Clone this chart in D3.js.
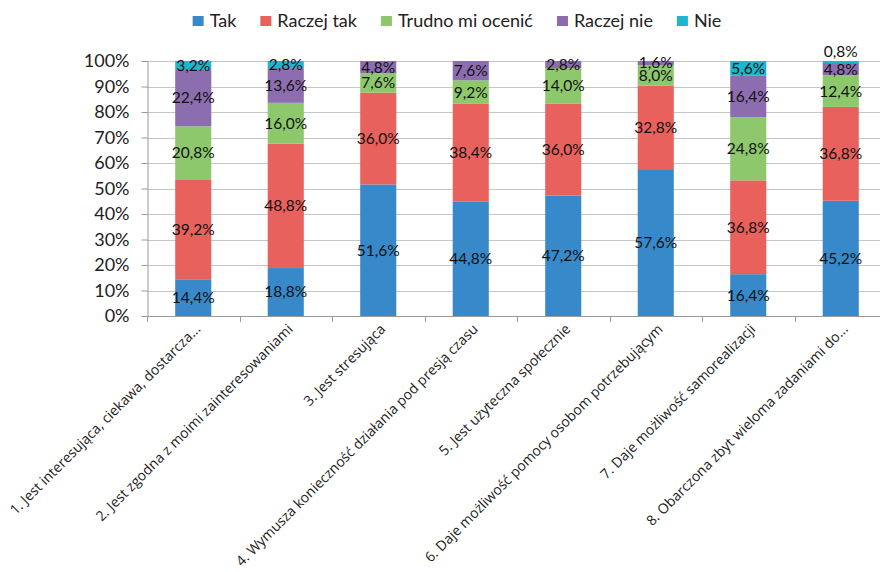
<!DOCTYPE html>
<html>
<head>
<meta charset="utf-8">
<script src="https://cdn.jsdelivr.net/npm/d3@7"></script>
<style>
  html, body { margin: 0; padding: 0; background: #fff; }
  svg { display: block; }
</style>
</head>
<body>
<svg id="chart" width="880" height="572"></svg>
<script>
// Categories (statements about the job)
const categories = [
  "1. Jest interesująca, ciekawa, dostarcza...",
  "2. Jest zgodna z moimi zainteresowaniami",
  "3. Jest stresująca",
  "4. Wymusza konieczność działania pod presją czasu",
  "5. Jest użyteczna społecznie",
  "6. Daje możliwość pomocy osobom potrzebującym",
  "7. Daje możliwość samorealizacji",
  "8. Obarczona zbyt wieloma zadaniami do..."
];

// Answer options (stack order bottom to top)
const seriesNames = ["Tak", "Raczej tak", "Trudno mi ocenić", "Raczej nie", "Nie"];
const seriesColors = ["#3789ca", "#e8615c", "#8dc86d", "#8c6daf", "#1cb7cf"];

// Percentages per answer option, one value per category
const tak        = [14.4, 18.8, 51.6, 44.8, 47.2, 57.6, 16.4, 45.2];
const raczejTak  = [39.2, 48.8, 36.0, 38.4, 36.0, 32.8, 36.8, 36.8];
const trudno     = [20.8, 16.0,  7.6,  9.2, 14.0,  8.0, 24.8, 12.4];
const raczejNie  = [22.4, 13.6,  4.8,  7.6,  2.8,  1.6, 16.4,  4.8];
const nie        = [ 3.2,  2.8,  0.0,  0.0,  0.0,  0.0,  5.6,  0.8];

const yTicks = [0, 10, 20, 30, 40, 50, 60, 70, 80, 90, 100];

const seriesValues = [tak, raczejTak, trudno, raczejNie, nie];
const rows = categories.map((c, i) => {
  const r = { cat: c };
  seriesNames.forEach((s, k) => { r[s] = seriesValues[k][i]; });
  return r;
});

const svg = d3.select("#chart");
const plotLeft = 147, plotRight = 887, plotTop = 61, plotBottom = 316;

const x = d3.scaleBand().domain(categories).range([plotLeft, plotRight])
  .paddingInner(0.61).paddingOuter(0.305);
const y = d3.scaleLinear().domain([0, 100]).range([plotBottom, plotTop]);
const color = d3.scaleOrdinal().domain(seriesNames).range(seriesColors);

const fmt = v => v.toFixed(1).replace(".", ",") + "%";

// Horizontal gridlines
svg.append("g").selectAll("line").data(yTicks.filter(t => t > 0)).join("line")
  .attr("x1", plotLeft).attr("x2", plotRight)
  .attr("y1", d => Math.round(y(d)) + 0.5).attr("y2", d => Math.round(y(d)) + 0.5)
  .attr("stroke", "#c6c6c6").attr("stroke-width", 1);

// Y axis
const yAxis = svg.append("g").attr("transform", `translate(${plotLeft + 0.5},0)`)
  .call(d3.axisLeft(y).tickValues(yTicks).tickFormat(d => d + "%").tickSize(6).tickPadding(12));
yAxis.select(".domain").attr("stroke", "#9a9a9a");
yAxis.selectAll(".tick line").attr("stroke", "#9a9a9a");
yAxis.selectAll("text").attr("font-family", "Lato, sans-serif").attr("font-size", 18)
  .attr("fill", "#222");

// Stacked bars
const stack = d3.stack().keys(seriesNames)(rows);
const layers = svg.append("g").selectAll("g").data(stack).join("g")
  .attr("fill", d => color(d.key));
layers.selectAll("rect").data(d => d).join("rect")
  .attr("x", d => x(d.data.cat))
  .attr("width", x.bandwidth())
  .attr("y", d => y(d[1]))
  .attr("height", d => y(d[0]) - y(d[1]));

// X axis (category boundaries as ticks)
const xg = svg.append("g");
xg.append("line").attr("x1", plotLeft).attr("x2", plotRight)
  .attr("y1", plotBottom + 0.5).attr("y2", plotBottom + 0.5).attr("stroke", "#9a9a9a");
const bounds = d3.range(categories.length + 1).map(i => plotLeft + i * x.step());
xg.selectAll("line.tk").data(bounds).join("line").attr("class", "tk")
  .attr("x1", d => Math.round(d) + 0.5).attr("x2", d => Math.round(d) + 0.5)
  .attr("y1", plotBottom).attr("y2", plotBottom + 6).attr("stroke", "#9a9a9a");

// Category labels, rotated
svg.append("g").selectAll("text").data(categories).join("text")
  .attr("transform", d => `translate(${x(d) + x.bandwidth() / 2 + 8},${plotBottom + 14}) rotate(-45)`)
  .attr("text-anchor", "end")
  .attr("font-family", "'Open Sans', sans-serif").attr("font-size", 14)
  .attr("fill", "#222")
  .text(d => d);

// Value labels (zero values are skipped; tiny top values sit above the bar)
const labels = [];
stack.forEach(layer => layer.forEach(d => {
  const v = d.data[layer.key];
  if (v > 0) labels.push({ v, cat: d.data.cat, y0: d[0], y1: d[1] });
}));
svg.append("g").selectAll("text").data(labels).join("text")
  .attr("x", d => x(d.cat) + x.bandwidth() / 2)
  .attr("y", d => d.v < 1 ? y(d.y1) - 9 : y((d.y0 + d.y1) / 2))
  .attr("dy", "0.35em")
  .attr("text-anchor", "middle")
  .attr("font-family", "Lato, sans-serif").attr("font-size", 15.5)
  .attr("fill", "#111")
  .text(d => fmt(d.v));

// Legend, items laid out sequentially by measured text width and centred
const lg = svg.append("g");
const leg = lg.selectAll("g").data(seriesNames).join("g");
let cx = 0;
const itemGap = 24;
leg.each(function (d) {
  const g = d3.select(this);
  g.append("rect").attr("x", 0).attr("y", 16).attr("width", 11).attr("height", 10)
    .attr("fill", color(d));
  const t = g.append("text").attr("x", 17).attr("y", 27)
    .attr("font-family", "Lato, sans-serif").attr("font-size", 18).attr("fill", "#222")
    .text(d);
  const w = t.node().getComputedTextLength();
  g.attr("transform", `translate(${cx},0)`);
  cx += 17 + w + itemGap;
});
const totalW = cx - itemGap;
lg.attr("transform", `translate(${457 - totalW / 2},0)`);
</script>
</body>
</html>
